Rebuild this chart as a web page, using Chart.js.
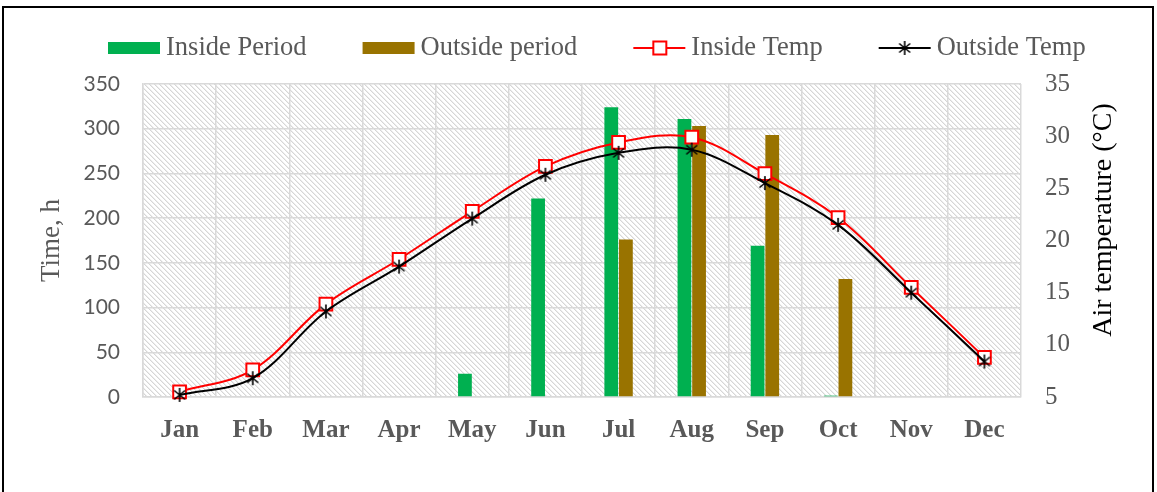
<!DOCTYPE html>
<html lang="en">
  <head>
    <meta charset="UTF-8" />
    <title>Inside / Outside period and air temperature</title>
    <script src="https://cdn.jsdelivr.net/npm/chart.js@4.4.0/dist/chart.umd.min.js"></script>
    <style>
      body { margin: 0; background: #fff; }
    </style>
  </head>
  <body>
    <canvas id="chart" width="1157" height="492"></canvas>

    <script>
      // data
      const months = ['Jan', 'Feb', 'Mar', 'Apr', 'May', 'Jun', 'Jul', 'Aug', 'Sep', 'Oct', 'Nov', 'Dec'];
      const insidePeriod = [0, 0, 0, 0, 26, 222, 324, 311, 169, 1.5, 0, 0];
      const outsidePeriod = [0, 0, 0, 0, 0, 0, 176, 303, 293, 132, 0, 0];
      const insideTemp = [5.5, 7.6, 13.9, 18.2, 22.8, 27.1, 29.4, 29.9, 26.4, 22.2, 15.5, 8.8];
      const outsideTemp = [5.2, 6.8, 13.2, 17.5, 22.1, 26.3, 28.4, 28.7, 25.5, 21.5, 15.0, 8.4];

      const serif = "'Liberation Serif', 'Times New Roman', serif";
      const grey = '#595959';
      const gridCol = '#d9d9d9';

      // hatched plot background tile
      const tile = document.createElement('canvas');
      tile.width = 5; tile.height = 5;
      const tctx = tile.getContext('2d');
      tctx.fillStyle = '#fff';
      tctx.fillRect(0, 0, 5, 5);
      tctx.fillStyle = '#d6d6d6';
      for (let i = 0; i < 5; i++) tctx.fillRect(i, i, 1, 1);
      tctx.fillStyle = '#ededed';
      for (let i = 0; i < 5; i++) tctx.fillRect((i + 1) % 5, i, 1, 1);

      // asterisk marker (vertical line + X), like the excel star
      function makeStar(size) {
        const c = document.createElement('canvas');
        c.width = size; c.height = size;
        const g = c.getContext('2d');
        const m = size / 2;
        g.strokeStyle = '#000';
        g.lineWidth = 1.6;
        g.beginPath();
        g.moveTo(m, 1); g.lineTo(m, size - 1);
        g.moveTo(2.5, 3.5); g.lineTo(size - 2.5, size - 3.5);
        g.moveTo(size - 2.5, 3.5); g.lineTo(2.5, size - 3.5);
        g.stroke();
        return c;
      }
      const star = makeStar(16);

      const frameAndBack = {
        id: 'frameAndBack',
        beforeDraw(chart) {
          const { ctx, chartArea: a } = chart;
          ctx.save();
          ctx.strokeStyle = '#000';
          ctx.lineWidth = 2;
          ctx.strokeRect(3, 7, 1150, 500);
          ctx.fillStyle = ctx.createPattern(tile, 'repeat');
          ctx.fillRect(a.left, a.top, a.right - a.left, a.bottom - a.top);
          ctx.restore();
        },
        afterDraw(chart) {
          const ctx = chart.ctx;
          ctx.save();
          // right axis title, reading bottom to top
          ctx.translate(1104, 220);
          ctx.rotate(-Math.PI / 2);
          ctx.font = '28px ' + serif;
          ctx.fillStyle = '#000';
          ctx.textAlign = 'center';
          ctx.textBaseline = 'middle';
          ctx.fillText('Air temperature (°C)', 0, 0);
          ctx.restore();

          // legend
          ctx.save();
          ctx.font = '26.5px ' + serif;
          ctx.textBaseline = 'middle';
          const y = 48;
          let x = 108;
          const items = [
            { text: 'Inside Period', kind: 'box', color: '#00b050' },
            { text: 'Outside period', kind: 'box', color: '#997300' },
            { text: 'Inside Temp', kind: 'square', color: '#ff0000' },
            { text: 'Outside Temp', kind: 'star', color: '#000' }
          ];
          items.forEach(it => {
            if (it.kind === 'box') {
              ctx.fillStyle = it.color;
              ctx.fillRect(x, y - 6, 52, 12);
            } else {
              ctx.strokeStyle = it.color;
              ctx.lineWidth = 2;
              ctx.beginPath();
              ctx.moveTo(x, y); ctx.lineTo(x + 52, y);
              ctx.stroke();
              if (it.kind === 'square') {
                ctx.fillStyle = '#fff';
                ctx.fillRect(x + 20, y - 6.5, 13, 13);
                ctx.strokeRect(x + 20, y - 6.5, 13, 13);
              } else {
                ctx.drawImage(star, x + 26 - 8, y - 8);
              }
            }
            x += 58;
            ctx.fillStyle = grey;
            ctx.fillText(it.text, x, y);
            x += ctx.measureText(it.text).width + 56;
          });
          ctx.restore();
        }
      };

      const ctx = document.getElementById('chart').getContext('2d');
      const myChart = new Chart(ctx, {
        type: 'bar',
        data: {
          labels: months,
          datasets: [{
            type: 'line',
            label: 'Outside Temp',
            data: outsideTemp,
            yAxisID: 'y1',
            borderColor: '#000',
            borderWidth: 2,
            tension: 0.35,
            pointStyle: star,
            pointRadius: 8,
            clip: false,
            order: 0
          }, {
            type: 'line',
            label: 'Inside Temp',
            data: insideTemp,
            yAxisID: 'y1',
            borderColor: '#ff0000',
            borderWidth: 2,
            tension: 0.35,
            pointStyle: 'rect',
            pointRadius: 9,
            pointBorderWidth: 2,
            pointBackgroundColor: '#fff',
            pointBorderColor: '#ff0000',
            clip: false,
            order: 1
          }, {
            label: 'Inside Period',
            data: insidePeriod,
            yAxisID: 'y',
            backgroundColor: '#00b050',
            categoryPercentage: 0.4,
            barPercentage: 0.94,
            order: 2
          }, {
            label: 'Outside period',
            data: outsidePeriod,
            yAxisID: 'y',
            backgroundColor: '#997300',
            categoryPercentage: 0.4,
            barPercentage: 0.94,
            order: 3
          }]
        },
        options: {
          responsive: false,
          animation: false,
          events: [],
          layout: { padding: { top: 84, left: 0, right: 0, bottom: 0 } },
          plugins: {
            legend: { display: false },
            tooltip: { enabled: false }
          },
          scales: {
            x: {
              afterFit: s => { s.height = 95; },
              grid: { color: gridCol, lineWidth: 1.5, drawTicks: false },
              border: { color: gridCol, width: 1.5 },
              ticks: {
                padding: 19,
                color: grey,
                font: { family: serif, size: 25, weight: 'bold' }
              }
            },
            y: {
              position: 'left',
              min: 0,
              max: 350,
              afterFit: s => { s.width = 143; },
              grid: { color: gridCol, lineWidth: 1.5, drawTicks: false },
              border: { color: gridCol, width: 1.5 },
              ticks: {
                stepSize: 50,
                padding: 23,
                color: grey,
                font: { family: "Lato, 'Open Sans', sans-serif", size: 21 }
              },
              title: {
                display: true,
                text: 'Time, h',
                color: grey,
                padding: { top: 36, bottom: 0 },
                font: { family: serif, size: 27 }
              }
            },
            y1: {
              position: 'right',
              min: 5,
              max: 35,
              afterFit: s => { s.width = 136; },
              grid: { display: false, drawTicks: false },
              border: { display: false },
              ticks: {
                stepSize: 5,
                padding: 24,
                color: grey,
                font: { family: serif, size: 25 }
              }
            }
          }
        },
        plugins: [frameAndBack]
      });
    </script>
  </body>
</html>
